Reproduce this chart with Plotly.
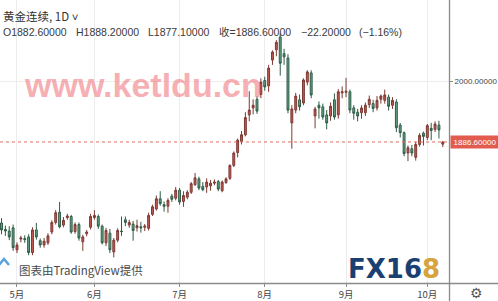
import plotly.graph_objects as go

# ---- data (gold continuous, daily) ----
APR = [27, 28, 29, 30]
MAY = [1, 4, 5, 6, 7, 8, 11, 12, 13, 14, 15, 18, 19, 20, 21, 22, 26, 27, 28, 29]
JUN = [1, 2, 3, 4, 5, 8, 9, 10, 11, 12, 15, 16, 17, 18, 19, 22, 23, 24, 25, 26, 29, 30]
JUL = [1, 2, 6, 7, 8, 9, 10, 13, 14, 15, 16, 17, 20, 21, 22, 23, 24, 27, 28, 29, 30, 31]
AUG = [3, 4, 5, 6, 7, 10, 11, 12, 13, 14, 17, 18, 19, 20, 21, 24, 25, 26, 27, 28, 31]
SEP = [1, 2, 3, 4, 8, 9, 10, 11, 14, 15, 16, 17, 18, 21, 22, 23, 24, 25, 28, 29, 30]
OCT = [1, 2, 5, 6, 7]

opens = [
    1736, 1724, 1721, 1727,
    1686, 1706, 1707, 1710, 1681, 1723, 1703, 1695, 1699, 1719, 1737, 1756, 1732, 1746, 1748, 1720, 1733, 1701, 1716, 1728,
    1746, 1748, 1730, 1699, 1717, 1682, 1704, 1721, 1742, 1732, 1734, 1727, 1729, 1728, 1726, 1752, 1762, 1781, 1770, 1767, 1786, 1782,
    1797, 1776, 1784, 1793, 1807, 1818, 1804, 1803, 1805, 1810, 1813, 1796, 1811, 1819, 1843, 1867, 1888, 1900, 1937, 1950, 1966, 1975,
    2001, 1991, 2039, 2058, 2082, 2051, 2043, 1922, 1946, 1965, 1959, 1998, 2015, 1935, 1955, 1952, 1937, 1935, 1965, 1937, 1978,
    1979, 1980, 1950, 1942, 1941, 1941, 1956, 1958, 1950, 1966, 1964, 1970, 1955, 1961, 1918, 1904, 1866, 1874, 1858, 1882, 1903,
    1895, 1912, 1910, 1918, 1882.6,
]
highs = [
    1745, 1731, 1730, 1733,
    1700, 1712, 1713, 1715, 1728, 1736, 1707, 1708, 1717, 1741, 1760, 1775, 1747, 1753, 1751, 1737, 1737, 1714, 1723, 1753,
    1760, 1752, 1733, 1727, 1725, 1708, 1726, 1748, 1748, 1742, 1740, 1742, 1738, 1734, 1755, 1770, 1787, 1795, 1776, 1782, 1790, 1803,
    1801, 1795, 1797, 1812, 1829, 1822, 1812, 1819, 1816, 1817, 1816, 1815, 1821, 1845, 1869, 1893, 1907, 1942, 1981, 1966, 1972, 2005,
    2008, 2030, 2057, 2076, 2089, 2060, 2050, 1955, 1978, 1975, 2005, 2020, 2020, 1952, 1962, 1958, 1946, 1960, 1977, 1985, 1990,
    2006, 1984, 1955, 1948, 1955, 1960, 1973, 1965, 1972, 1975, 1984, 1975, 1970, 1966, 1922, 1906, 1880, 1881, 1887, 1903, 1906,
    1920, 1922, 1925, 1926, 1888.2,
]
lows = [
    1715, 1712, 1704, 1684,
    1680, 1700, 1699, 1676, 1676, 1705, 1690, 1690, 1695, 1715, 1733, 1726, 1728, 1742, 1716, 1716, 1703, 1684, 1711, 1724,
    1742, 1725, 1696, 1693, 1680, 1672, 1700, 1712, 1730, 1727, 1703, 1720, 1718, 1721, 1722, 1749, 1759, 1768, 1757, 1755, 1775, 1778,
    1770, 1766, 1780, 1790, 1805, 1797, 1795, 1792, 1796, 1806, 1795, 1793, 1809, 1816, 1840, 1858, 1882, 1897, 1925, 1938, 1939, 1968,
    1982, 1980, 2030, 2046, 2010, 2030, 1940, 1874, 1940, 1945, 1955, 1992, 1968, 1912, 1930, 1928, 1910, 1926, 1928, 1930, 1968,
    1970, 1940, 1928, 1925, 1930, 1935, 1950, 1942, 1945, 1958, 1958, 1945, 1948, 1905, 1895, 1860, 1851, 1860, 1852, 1878, 1880,
    1890, 1890, 1905, 1893, 1877.1,
]
closes = [
    1723, 1721, 1710, 1690,
    1695, 1708, 1705, 1681, 1723, 1710, 1695, 1702, 1712, 1737, 1755, 1729, 1741, 1749, 1719, 1733, 1708, 1710, 1719, 1748,
    1750, 1730, 1699, 1722, 1686, 1704, 1722, 1720, 1737, 1737, 1722, 1731, 1727, 1730, 1750, 1766, 1781, 1772, 1767, 1778, 1780, 1797,
    1775, 1787, 1793, 1809, 1820, 1801, 1798, 1812, 1810, 1812, 1799, 1812, 1818, 1843, 1866, 1890, 1900, 1932, 1946, 1955, 1944, 1998,
    1989, 2024, 2054, 2072, 2033, 2045, 1946, 1948, 1972, 1952, 2002, 2017, 1974, 1948, 1950, 1933, 1922, 1953, 1933, 1980, 1980,
    1981, 1946, 1940, 1935, 1950, 1955, 1966, 1949, 1964, 1972, 1974, 1953, 1964, 1913, 1904, 1865, 1876, 1866, 1882, 1899, 1897,
    1917, 1908, 1920, 1909, 1886.6,
]

month_ticks = ["2020-05-01", "2020-06-01", "2020-07-01", "2020-08-03", "2020-09-01", "2020-10-01"]
month_labels = ["5月", "6月", "7月", "8月", "9月", "10月"]
y_tick_vals = [2000]
y_tick_text = ["2000.00000"]
last_price = 1886.6
last_price_text = "1886.60000"

dates = ([f"2020-04-{d:02d}" for d in APR] + [f"2020-05-{d:02d}" for d in MAY] +
         [f"2020-06-{d:02d}" for d in JUN] + [f"2020-07-{d:02d}" for d in JUL] +
         [f"2020-08-{d:02d}" for d in AUG] + [f"2020-09-{d:02d}" for d in SEP] +
         [f"2020-10-{d:02d}" for d in OCT])

# ---- layout geometry ----
W, H = 498, 301
ML, MR, MT, MB = 0, 49, 0, 18
PW, PH = W - ML - MR, H - MT - MB


def px(x):
    return (x - ML) / PW


def py(y):
    return (MT + PH - y) / PH


fig = go.Figure()
fig.add_trace(go.Candlestick(
    x=dates, open=opens, high=highs, low=lows, close=closes,
    increasing=dict(line=dict(color="#7d3a33", width=1), fillcolor="#c25a50"),
    decreasing=dict(line=dict(color="#2f5c47", width=1), fillcolor="#66a487"),
    whiskerwidth=0, showlegend=False, hoverinfo="skip",
))

annotations = []
shapes = []

# watermark
annotations.append(dict(
    text="www.ketldu.cn", xref="paper", yref="paper", x=px(22), y=py(98),
    xanchor="left", yanchor="bottom", yshift=-8, showarrow=False,
    font=dict(family="Liberation Sans, Arial, sans-serif", size=34, color="rgba(242,140,145,0.7)", weight="bold"),
))

# title lines
annotations.append(dict(
    text="黄金连续, 1D ˅", xref="paper", yref="paper", x=px(1), y=py(16),
    xanchor="left", yanchor="middle", showarrow=False,
    font=dict(family="Noto Sans CJK SC, Liberation Sans", size=11.5, color="#333333"),
))
info = [("O1882.60000", 1), ("H1888.20000", 74), ("L1877.10000", 146),
        ("收=1886.60000", 217), ("−22.20000", 299), ("(−1.16%)", 357)]
for t, xp in info:
    annotations.append(dict(
        text=t, xref="paper", yref="paper", x=px(xp), y=py(32),
        xanchor="left", yanchor="middle", showarrow=False,
        font=dict(family="Liberation Sans, Noto Sans CJK SC", size=10.5, color="#3a3a3a"),
    ))

# price label
annotations.append(dict(
    text=last_price_text, xref="paper", yref="y", x=px(450), y=last_price,
    xanchor="left", yanchor="middle", showarrow=False,
    bgcolor="#e25b4f", borderpad=1, width=46, height=10, align="center",
    font=dict(family="Liberation Sans", size=8, color="#ffffff"),
))

# bottom-left credit
annotations.append(dict(
    text="图表由TradingView提供", xref="paper", yref="paper", x=px(17), y=py(270),
    xanchor="left", yanchor="middle", showarrow=False,
    font=dict(family="Noto Sans CJK SC, Liberation Sans", size=11.5, color="#4a4a4a"),
))

# FX168 logo
annotations.append(dict(
    text="<span style='color:#1b3f70'>FX16</span><span style='color:#d6a43c'>8</span>",
    xref="paper", yref="paper", x=px(346), y=py(269),
    xanchor="left", yanchor="middle", showarrow=False,
    font=dict(family="DejaVu Sans, sans-serif", size=26, weight="bold"),
))

# gear icon
annotations.append(dict(
    text="⚙", xref="paper", yref="paper", x=px(476), y=py(293),
    xanchor="center", yanchor="middle", showarrow=False,
    font=dict(family="DejaVu Sans", size=14, color="#555555"),
))

# dotted last price line
shapes.append(dict(type="line", xref="paper", yref="y", x0=0, x1=1, y0=last_price, y1=last_price,
                   line=dict(color="#e06a5e", width=1, dash="dot")))
# separators (axis borders)
shapes.append(dict(type="line", xref="paper", yref="paper", x0=px(449.5), x1=px(449.5), y0=py(301), y1=py(0),
                   line=dict(color="#8a8a8a", width=1.3)))
shapes.append(dict(type="line", xref="paper", yref="paper", x0=px(0), x1=px(498), y0=py(283.5), y1=py(283.5),
                   line=dict(color="#8a8a8a", width=1.3)))
# small TradingView icon
shapes.append(dict(type="path", xref="paper", yref="paper",
                   path=f"M {px(-1)} {py(265)} L {px(4)} {py(259)} L {px(9)} {py(265)}",
                   line=dict(color="#5aa3dc", width=2.5)))

fig.update_layout(
    width=W, height=H,
    margin=dict(l=ML, r=MR, t=MT, b=MB, pad=0),
    paper_bgcolor="#ffffff", plot_bgcolor="#ffffff",
    annotations=annotations, shapes=shapes,
    xaxis=dict(
        type="category", range=[-0.39, 115.6], rangeslider=dict(visible=False),
        tickvals=month_ticks, ticktext=month_labels,
        showgrid=True, gridcolor="#ececec", gridwidth=1,
        ticks="outside", ticklen=3, tickcolor="#8a8a8a",
        tickfont=dict(family="Noto Sans CJK SC, Liberation Sans", size=9.5, color="#444444"),
        showline=False, zeroline=False, fixedrange=True,
    ),
    yaxis=dict(
        side="right", range=[1624.3, 2150.7],
        tickvals=y_tick_vals, ticktext=y_tick_text,
        showgrid=True, gridcolor="#ececec", gridwidth=1,
        ticks="outside", ticklen=3, tickcolor="#8a8a8a",
        tickfont=dict(family="Liberation Sans", size=8, color="#444444"),
        showline=False, zeroline=False, fixedrange=True,
    ),
)

fig.write_html("out.html")
